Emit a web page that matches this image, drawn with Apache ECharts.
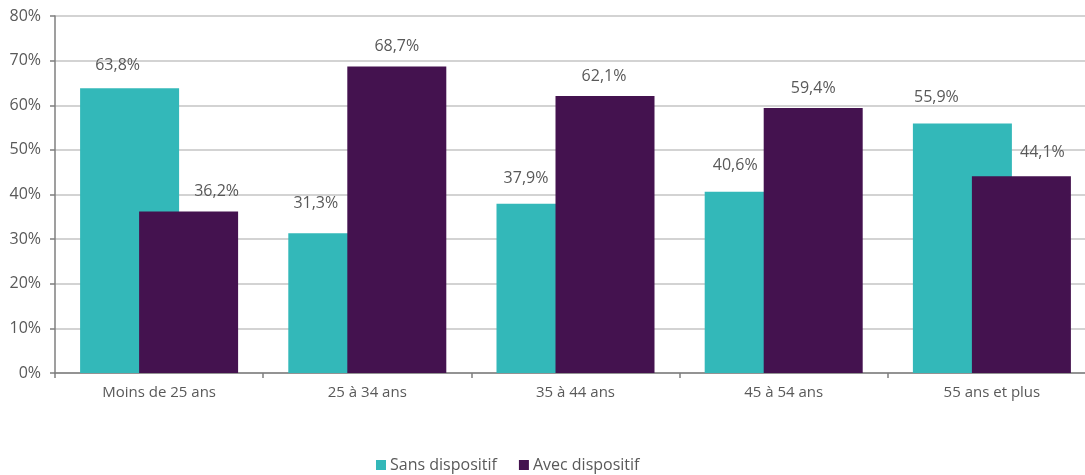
<!DOCTYPE html>
<html>
<head>
<meta charset="utf-8">
<script src="https://cdn.jsdelivr.net/npm/echarts@6/dist/echarts.min.js"></script>
<style>
html,body{margin:0;padding:0;background:#fff;overflow:hidden;width:1085px;height:475px;}
#c{width:1097px;height:475px;}
</style>
</head>
<body>
<div id="c"></div>
<script>
const categories = ['Moins de 25 ans', '25 à 34 ans', '35 à 44 ans', '45 à 54 ans', '55 ans et plus'];
const sansDispositif = [63.8, 31.3, 37.9, 40.6, 55.9];
const avecDispositif = [36.2, 68.7, 62.1, 59.4, 44.1];
const yTicks = [0, 10, 20, 30, 40, 50, 60, 70, 80];

// label nudges (style only)
const sansLabelNudge = [[-12, -10], [-22, -17], [-20, -12], [-19, -13], [-26, -13]];
const avecLabelNudge = [[28, -7], [0, -7], [-1, -6], [0, -6], [21, -11]];

const FONT = 'Open Sans';
const TXT = '#595959';

function fmt(v) { return v.toFixed(1).replace('.', ',') + '%'; }

const chart = echarts.init(document.getElementById('c'), null, {renderer: 'canvas'});
chart.setOption({
  animation: false,
  textStyle: {fontFamily: FONT},
  grid: {left: 55, top: 16, right: 1, height: 357, containLabel: false},
  legend: {
    data: ['Sans dispositif', 'Avec dispositif'],
    left: 371, top: 452,
    itemWidth: 10, itemHeight: 10, itemGap: 22,
    icon: 'rect',
    textStyle: {fontFamily: FONT, fontSize: 16, color: TXT, padding: [0, 0, 0, -1]}
  },
  xAxis: {
    type: 'category',
    data: categories,
    axisLine: {lineStyle: {color: '#7f7f7f', width: 1.5}},
    axisTick: {show: true, length: 5, lineStyle: {color: '#7f7f7f', width: 1.5}},
    axisLabel: {fontFamily: FONT, fontSize: 15, color: TXT, margin: 12}
  },
  yAxis: {
    type: 'value',
    min: yTicks[0], max: yTicks[yTicks.length - 1], interval: 10,
    axisLine: {show: true, lineStyle: {color: '#7f7f7f', width: 1.5}},
    axisTick: {show: true, length: 5, lineStyle: {color: '#7f7f7f', width: 1.5}},
    axisLabel: {fontFamily: FONT, fontSize: 16, color: TXT, margin: 14, formatter: v => v + '%'},
    splitLine: {lineStyle: {color: '#c4c4c4', width: 1.5}}
  },
  series: [
    {
      name: 'Sans dispositif', type: 'bar',
      barWidth: 99, barGap: '-40.4%',
      itemStyle: {color: '#33B8B9'},
      label: {show: true, position: 'top', fontFamily: FONT, fontSize: 16, color: TXT, formatter: p => fmt(p.value)},
      data: sansDispositif.map((v, i) => ({value: v, label: {offset: sansLabelNudge[i]}}))
    },
    {
      name: 'Avec dispositif', type: 'bar',
      barWidth: 99,
      itemStyle: {color: '#44124F'},
      label: {show: true, position: 'top', fontFamily: FONT, fontSize: 16, color: TXT, formatter: p => fmt(p.value)},
      data: avecDispositif.map((v, i) => ({value: v, label: {offset: avecLabelNudge[i]}}))
    }
  ]
});
</script>
</body>
</html>
